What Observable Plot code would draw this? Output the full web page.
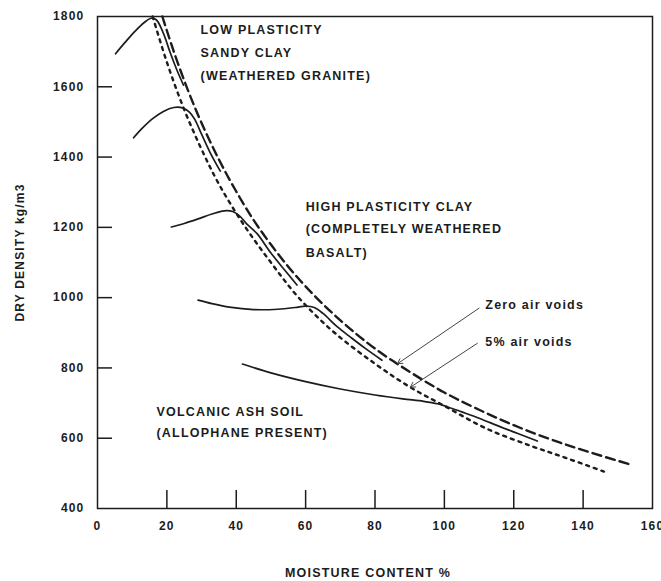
<!DOCTYPE html>
<html><head><meta charset="utf-8">
<script src="https://cdn.jsdelivr.net/npm/d3@7"></script>
<script src="https://cdn.jsdelivr.net/npm/@observablehq/plot@0.6"></script>
<style>
html,body{margin:0;padding:0;background:#fff;}
#chart svg text{letter-spacing:1.2px;}
</style></head><body><div id="chart"></div>
<script>
// Tick values
const xTicks = [0, 20, 40, 60, 80, 100, 120, 140, 160];
const yTicks = [400, 600, 800, 1000, 1200, 1400, 1600, 1800];

// Zero air voids (long dashes)
const zavX = [18.7, 22, 26, 30, 35, 40, 46, 55, 63, 71, 80, 90, 100, 110, 120, 130, 140, 154];
const zavY = [1800, 1700, 1592, 1497, 1393, 1302, 1206, 1088, 1001, 927, 855, 789, 730, 681, 637, 599, 566, 524];
// 5% air voids (short dashes)
const av5X = [15.9, 20, 25, 30, 35, 42, 50, 58, 68, 80, 90, 100, 112, 125, 135, 146];
const av5Y = [1800, 1670, 1535, 1422, 1323, 1210, 1100, 1000, 903, 812, 746, 692, 628, 578, 544, 505];

// Compaction curves (solid)
const c1X = [5.2, 8, 11, 13.5, 15.5, 17, 19, 21, 23, 24.8];
const c1Y = [1694, 1727, 1760, 1783, 1795, 1790, 1752, 1696, 1645, 1605];
const c2X = [10.4, 13, 16, 19, 22, 24.5, 26.5, 28, 30, 32.5, 35.4];
const c2Y = [1455, 1483, 1510, 1530, 1541, 1540, 1528, 1508, 1465, 1412, 1360];
const c3X = [21.3, 25, 29, 33, 36.5, 39, 41, 43, 46, 50, 54, 57.5];
const c3Y = [1201, 1211, 1224, 1238, 1247, 1245, 1232, 1210, 1182, 1127, 1078, 1036];
const c4X = [29, 33, 38, 45, 52, 57, 60, 62.5, 65, 69, 73, 77, 82];
const c4Y = [993, 983, 973, 966, 967, 972, 976, 972, 955, 918, 887, 857, 822];
const c5X = [41.8, 50, 60, 70, 80, 88, 94, 98, 101, 105, 110, 116, 121, 126.8];
const c5Y = [811, 786, 761, 740, 723, 712, 705, 698, 689, 675, 657, 633, 614, 592];

// Annotations
const noteText = ["LOW PLASTICITY", "SANDY CLAY", "(WEATHERED GRANITE)",
  "HIGH PLASTICITY CLAY", "(COMPLETELY WEATHERED", "BASALT)",
  "VOLCANIC ASH SOIL", "(ALLOPHANE PRESENT)", "Zero air voids", "5% air voids"];
const noteX = [29.7, 29.7, 29.7, 60, 60, 60, 17, 17, 111.8, 111.8];
const noteY = [1763, 1697, 1632, 1258, 1196, 1127, 674, 614, 979, 873];

// Arrows (label -> curve)
const arrowX1 = [110, 109.5];
const arrowY1 = [970, 870];
const arrowX2 = [86.5, 90.2];
const arrowY2 = [812, 745];

const W = 661, H = 581, mL = 97, mR = 9, mT = 16, mB = 73;
const innerW = W - mL - mR, innerH = H - mT - mB;
const ink = "#1c1c1c";

const toRows = (xs, ys) => xs.map((x, i) => ({x, y: ys[i]}));
const curves = [[c1X, c1Y], [c2X, c2Y], [c3X, c3Y], [c4X, c4Y], [c5X, c5Y]].map(([a, b]) => toRows(a, b));
const notes = noteText.map((t, i) => ({t, x: noteX[i], y: noteY[i]}));
const arrows = arrowX1.map((x1, i) => ({x1, y1: arrowY1[i], x2: arrowX2[i], y2: arrowY2[i]}));

const chart = Plot.plot({
  width: W, height: H,
  marginLeft: mL, marginRight: mR, marginTop: mT, marginBottom: mB,
  style: {fontFamily: "'Liberation Sans', Arial, sans-serif", fontSize: "12px", fontWeight: "bold", color: ink, background: "#fff"},
  x: {domain: [0, 160], ticks: xTicks, tickSize: 0, tickPadding: 13, label: null, tickFormat: d => String(d)},
  y: {domain: [400, 1800], ticks: yTicks, tickSize: 0, tickPadding: 13, label: null, tickFormat: d => String(d)},
  marks: [
    Plot.tickX(xTicks.slice(1, -1), {x: d => d, insetTop: innerH - 18, stroke: ink, strokeWidth: 1.5}),
    Plot.tickY(yTicks.slice(1, -1), {y: d => d, insetRight: innerW - 15, stroke: ink, strokeWidth: 1.5}),
    Plot.line(toRows(zavX, zavY), {x: "x", y: "y", curve: "catmull-rom", stroke: ink, strokeWidth: 2.4, strokeDasharray: "9,5"}),
    Plot.line(toRows(av5X, av5Y), {x: "x", y: "y", curve: "catmull-rom", stroke: ink, strokeWidth: 2.4, strokeDasharray: "3,5"}),
    ...curves.map(c => Plot.line(c, {x: "x", y: "y", curve: "catmull-rom", stroke: ink, strokeWidth: 1.7})),
    Plot.arrow(arrows, {x1: "x1", y1: "y1", x2: "x2", y2: "y2", stroke: "#444", strokeWidth: 1, headLength: 8, bend: false}),
    Plot.text(notes, {x: "x", y: "y", text: "t", textAnchor: "start", fontSize: 12.5, fontWeight: "bold", fill: ink}),
    Plot.text(["MOISTURE CONTENT %"], {text: d => d, frameAnchor: "bottom", textAnchor: "middle", lineAnchor: "middle", dy: 64, dx: -7, fontSize: 12.5, fontWeight: "bold", fill: ink}),
    Plot.text(["DRY DENSITY kg/m3"], {text: d => d, frameAnchor: "left", textAnchor: "middle", lineAnchor: "middle", dx: -77, dy: -10, rotate: -90, fontSize: 12, fontWeight: "bold", fill: ink}),
    Plot.frame({stroke: ink, strokeWidth: 1.5})
  ]
});
document.getElementById("chart").appendChild(chart);
</script></body></html>
